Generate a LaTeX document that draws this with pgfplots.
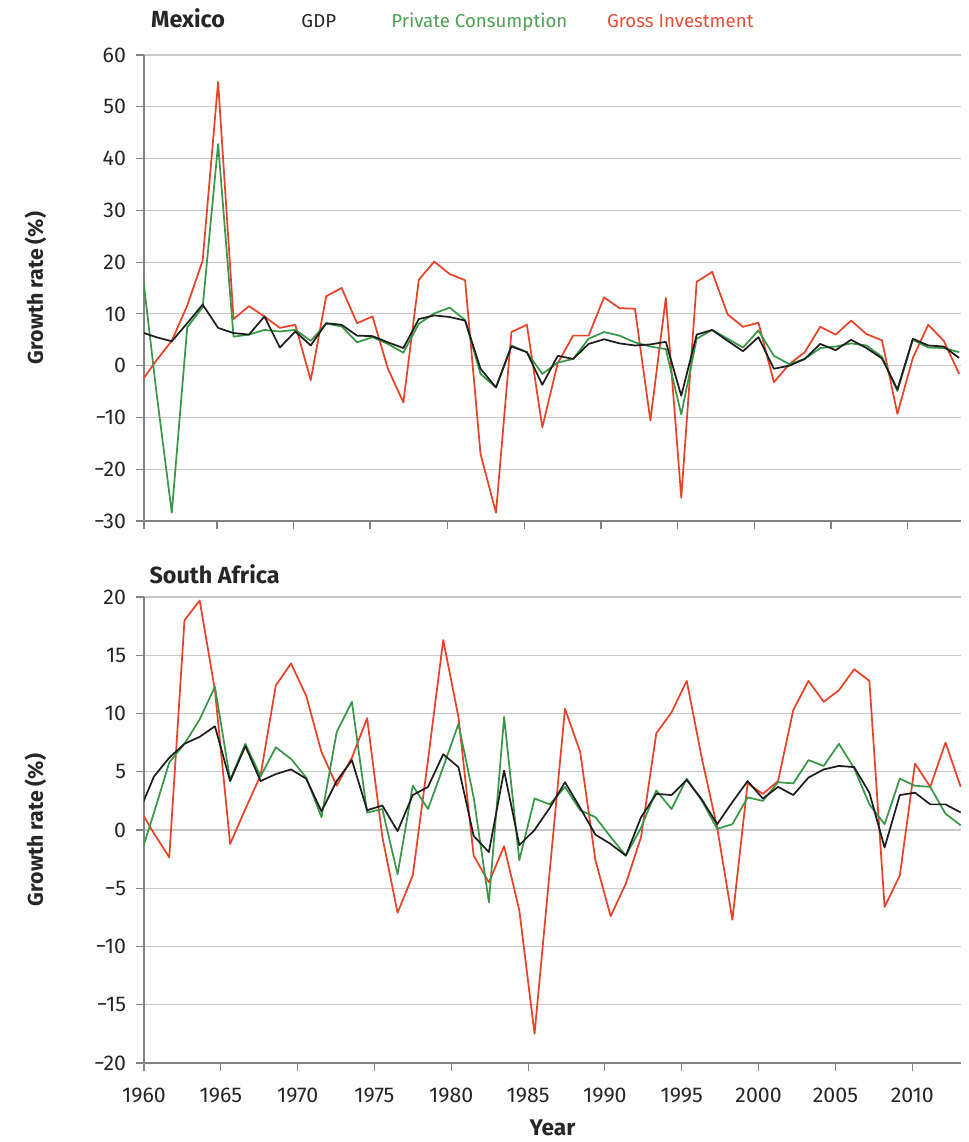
\documentclass[border=0pt]{standalone}
\usepackage{fontspec}
\setmainfont{Fira Sans}
\usepackage{pgfplots}
\usepackage{pgfplotstable}
\pgfplotsset{compat=1.18}

\definecolor{gdpc}{RGB}{30,30,30}
\definecolor{pcc}{RGB}{58,150,72}
\definecolor{gic}{RGB}{232,66,40}
\definecolor{gridc}{RGB}{200,200,200}
\definecolor{axc}{RGB}{130,130,130}
\definecolor{pctext}{RGB}{78,160,84}
\definecolor{gitext}{RGB}{224,80,58}

\pgfplotstableread{
year gdp pc gi
1960 6.5 20.6 -3.2
1961 5.5 -5.0 1.0
1962 4.7 -28.4 4.8
1963 8.2 7.4 11.6
1964 11.8 11.3 20.3
1965 7.3 42.8 54.8
1966 6.3 5.6 9.0
1967 6.0 6.0 11.5
1968 9.5 6.9 9.5
1969 3.5 6.6 7.3
1970 6.6 6.9 7.9
1971 3.9 4.8 -2.8
1972 8.2 8.1 13.4
1973 7.9 7.6 15.0
1974 5.8 4.5 8.2
1975 5.7 5.5 9.5
1976 4.5 4.2 -0.6
1977 3.4 2.5 -7.1
1978 9.0 8.1 16.6
1979 9.7 10.1 20.1
1980 9.4 11.2 17.7
1981 8.7 8.8 16.5
1982 -0.6 -1.6 -17.1
1983 -4.2 -4.2 -28.4
1984 3.7 3.9 6.5
1985 2.6 2.6 7.9
1986 -3.7 -1.6 -11.9
1987 1.9 0.6 0.5
1988 1.3 1.3 5.8
1989 4.2 5.2 5.8
1990 5.1 6.5 13.2
1991 4.3 5.8 11.1
1992 3.9 4.5 11.0
1993 4.1 3.7 -10.6
1994 4.6 3.2 13.1
1995 -5.8 -9.4 -25.5
1996 6.0 5.2 16.2
1997 6.9 6.9 18.1
1998 4.8 5.2 9.9
1999 2.8 3.5 7.5
2000 5.5 6.8 8.3
2001 -0.6 1.9 -3.2
2002 0.0 0.3 0.3
2003 1.3 1.3 2.6
2004 4.2 3.4 7.5
2005 3.0 3.7 6.0
2006 5.0 4.3 8.7
2007 3.4 3.9 6.1
2008 1.4 1.7 4.9
2009 -4.6 -4.9 -9.3
2010 5.2 5.0 1.5
2011 3.9 3.5 7.9
2012 3.7 3.4 4.8
2013 1.5 2.6 -1.6
}\mex

\pgfplotstableread{
year gdp pc gi
1960 1.5 -2.6 1.9
1961 4.6 1.5 -0.3
1962 6.2 5.8 -2.35
1963 7.4 7.4 18.0
1964 8.0 9.5 19.7
1965 8.9 12.3 12.0
1966 4.2 4.3 -1.2
1967 7.2 7.4 1.8
1968 4.2 4.6 4.7
1969 4.8 7.1 12.4
1970 5.2 6.1 14.3
1971 4.4 4.5 11.5
1972 1.6 1.1 6.7
1973 4.2 8.4 3.8
1974 6.0 11.0 6.2
1975 1.7 1.5 9.6
1976 2.1 1.8 -0.6
1977 -0.1 -3.8 -7.1
1978 3.0 3.8 -3.9
1979 3.7 1.8 6.0
1980 6.5 5.4 16.3
1981 5.4 9.1 9.7
1982 -0.5 2.8 -2.2
1983 -1.9 -6.2 -4.5
1984 5.1 9.7 -1.4
1985 -1.3 -2.6 -6.9
1986 0.0 2.7 -17.5
1987 1.9 2.2 -3.5
1988 4.1 3.7 10.4
1989 1.9 1.7 6.7
1990 -0.4 1.1 -2.6
1991 -1.2 -0.6 -7.4
1992 -2.2 -2.2 -4.6
1993 1.1 0.2 -0.6
1994 3.1 3.4 8.3
1995 3.0 1.8 10.1
1996 4.3 4.4 12.8
1997 2.6 2.5 6.1
1998 0.5 0.1 0.2
1999 2.4 0.5 -7.7
2000 4.2 2.8 4.0
2001 2.7 2.5 3.1
2002 3.7 4.1 4.2
2003 3.0 4.0 10.3
2004 4.5 6.0 12.8
2005 5.2 5.5 11.0
2006 5.5 7.4 12.0
2007 5.4 5.3 13.8
2008 3.2 2.2 12.8
2009 -1.5 0.5 -6.6
2010 3.0 4.4 -3.9
2011 3.2 3.8 5.7
2012 2.2 3.7 3.7
2013 2.2 1.4 7.5
2014 1.5 0.4 3.7
}\zaf

\pgfplotsset{
  panel/.style={
    scale only axis, width=612.75pt, height=349.5pt,
    anchor=south west,
    axis lines=left,
    axis line style={-, draw=axc, line width=0.9pt},
    ymajorgrids=true,
    major grid style={gridc, line width=0.9pt},
    tick align=outside,
    major tick length=6pt,
    tick style={axc, line width=0.9pt},
    ticklabel style={font=\fontsize{16}{18}\selectfont, text=black!85},
    yticklabel style={xshift=-4pt},
    xticklabel style={yshift=-9pt},
    ylabel={Growth rate (\%)},
    ylabel style={font=\bfseries\fontsize{16}{18}\selectfont, text=black!85, at={(axis description cs:-0.133,0.5)}, anchor=center, rotate=0},
    clip mode=individual,
    no markers,
  },
  gdpline/.style={gdpc, line width=1.3pt, line join=round},
  pcline/.style={pcc, line width=1.3pt, line join=round},
  giline/.style={gic, line width=1.3pt, line join=round},
}

\begin{document}
\begin{tikzpicture}
\useasboundingbox (-108pt,-59.25pt) rectangle (618.75pt,797.25pt);

\begin{axis}[panel, at={(0pt,406.5pt)},
  xmin=1960.2, xmax=2013.12, ymin=-30, ymax=60,
  ytick={-30,-20,-10,0,10,20,30,40,50,60},
  yticklabels={−30,−20,−10,0,10,20,30,40,50,60},
  xtick={1960.2,1964.93,1969.87,1974.84,1979.87,1984.83,1989.8,1994.77,1999.73,2004.7,2009.66},
  xticklabels={},
]
\addplot[giline] table[x=year,y=gi] {\mex};
\addplot[pcline] table[x=year,y=pc] {\mex};
\addplot[gdpline] table[x=year,y=gdp] {\mex};
\node[anchor=base west, font=\bfseries\fontsize{17.5}{19}\selectfont, text=black!85] at (axis description cs:0.003,1.06) {Mexico};
\node[anchor=base west, font=\fontsize{14}{16}\selectfont, text=black!85] at (axis description cs:0.187,1.06) {GDP};
\node[anchor=base west, font=\fontsize{14}{16}\selectfont, text=pctext] at (axis description cs:0.297,1.06) {Private Consumption};
\node[anchor=base west, font=\fontsize{14}{16}\selectfont, text=gitext] at (axis description cs:0.561,1.06) {Gross Investment};
\end{axis}

\begin{axis}[panel, at={(0pt,0pt)},
  xmin=1960.34, xmax=2014.02, ymin=-20, ymax=20,
  ytick={-20,-15,-10,-5,0,5,10,15,20},
  yticklabels={−20,−15,−10,−5,0,5,10,15,20},
  xtick={1960.34,1965.39,1970.44,1975.48,1980.53,1985.58,1990.62,1995.67,2000.72,2005.77,2010.82},
  xticklabels={1960,1965,1970,1975,1980,1985,1990,1995,2000,2005,2010},
  xlabel={Year},
  xlabel style={font=\bfseries\fontsize{17}{19}\selectfont, text=black!85, at={(axis description cs:0.5,-0.139)}, anchor=center},
]
\addplot[giline] table[x=year,y=gi] {\zaf};
\addplot[pcline] table[x=year,y=pc] {\zaf};
\addplot[gdpline] table[x=year,y=gdp] {\zaf};
\node[anchor=base west, font=\bfseries\fontsize{17.5}{19}\selectfont, text=black!85] at (axis description cs:0.001,1.03) {South Africa};
\end{axis}
\end{tikzpicture}
\end{document}
